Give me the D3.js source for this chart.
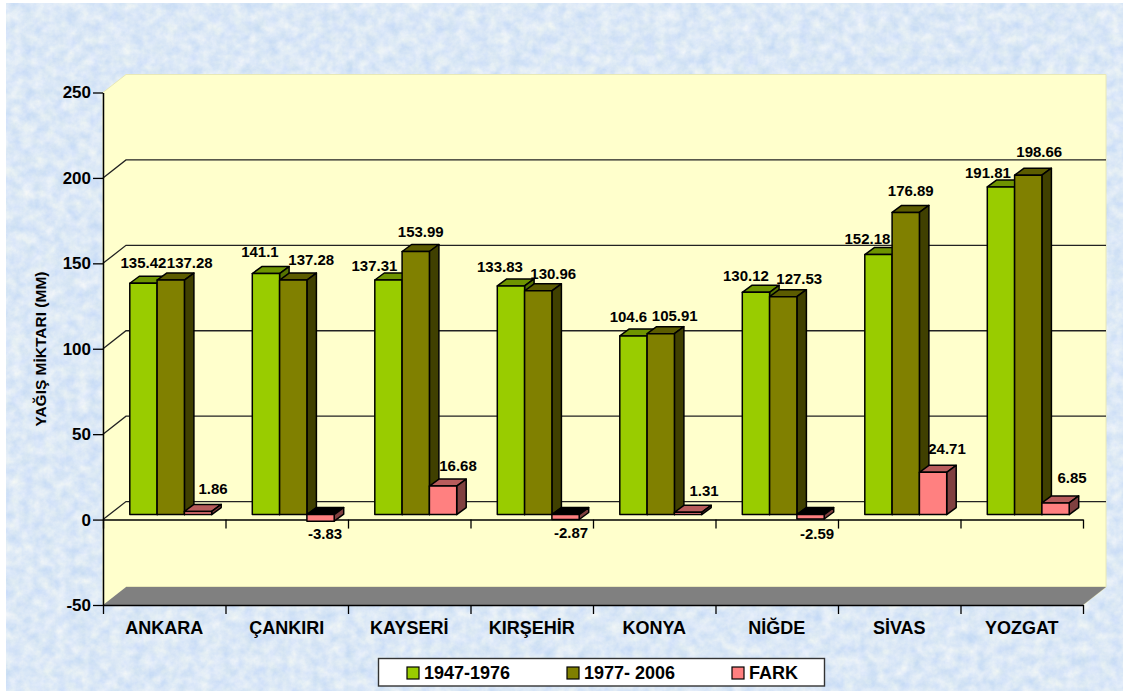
<!DOCTYPE html>
<html><head><meta charset="utf-8">
<script src="https://cdn.jsdelivr.net/npm/d3@7/dist/d3.min.js"></script>
<style>html,body{margin:0;padding:0;background:#fff;overflow:hidden}svg{display:block}text{font-family:"Liberation Sans",Arial,sans-serif;font-weight:bold;fill:#000}</style>
</head><body><svg id="c" width="1123" height="691"></svg>
<script>
const categories = ["ANKARA","ÇANKIRI","KAYSERİ","KIRŞEHİR","KONYA","NİĞDE","SİVAS","YOZGAT"];
const seriesNames = ["1947-1976","1977- 2006","FARK"];
const period1 = [135.42,141.1,137.31,133.83,104.6,130.12,152.18,191.81];
const period2 = [137.28,137.28,153.99,130.96,105.91,127.53,176.89,198.66];
const fark = [1.86,-3.83,16.68,-2.87,1.31,-2.59,24.71,6.85];
const yTicks = [-50,0,50,100,150,200,250];
// label nudges from each bar's top centre (layout, not data)
const nudgeX = [[0,-6,-14,-11,-5,-10,-11,-13],[19,18,5,15,14,16,5,11],[15,4.5,15,5.5,16,6.5,14,16.5]];
const nudgeY = [[-21,-21.5,-14,-19,-19,-17,-16,-14],[-17,-20,-20,-17,-18,-18,-22,-24],[-23,12,-20,13.5,-22,15,-24,-25]];

const series = [period1,period2,fark];
const front = ["#99CC00","#808000","#FF8080"], top_ = ["#6E9400","#5C5C00","#B85C5C"], side = ["#557300","#404000","#804040"];
const svg = d3.select("#c");
const L=103,R=1083,T=92.5,B=605,DX=23,DY=18;
const y = d3.scaleLinear().domain([-50,250]).range([B,T]);
const x = d3.scaleBand().domain(categories).range([L,R]);
const xEdges = d3.scaleLinear().domain([0,categories.length]).range([L,R]);

// textured backdrop
const defs = svg.append("defs");
const f = defs.append("filter").attr("id","tex").attr("x",0).attr("y",0).attr("width","100%").attr("height","100%").attr("color-interpolation-filters","sRGB");
f.append("feTurbulence").attr("type","fractalNoise").attr("baseFrequency","0.09").attr("numOctaves",5).attr("seed",11);
f.append("feColorMatrix").attr("type","matrix").attr("values","0.20 0.05 0 0 0.735  0.13 0.02 0 0 0.835  0 0.03 0.03 0 0.935  0 0 0 0 1");
svg.append("rect").attr("x",6).attr("y",3).attr("width",1117).attr("height",688).attr("filter","url(#tex)");

const poly = pts=>"M"+pts.map(p=>p.join(",")).join("L")+"Z";
// walls and floor
svg.append("path").attr("d",poly([[L,T],[L+DX,T-DY],[R+DX,T-DY],[R+DX,B-DY],[R,B],[L,B]])).attr("fill","#FFFFCC").attr("stroke","#E8E8B8").attr("stroke-width",1);
svg.append("path").attr("d",poly([[L,B],[L+DX,B-DY],[R+DX,B-DY],[R,B]])).attr("fill","#808080");
svg.append("path").attr("d",`M${L+DX},${B-DY-.5}H${R+DX}`).attr("stroke","#E8E8B8").attr("fill","none");

// gridlines on the wall
const grid = svg.append("g").attr("fill","none").attr("stroke","#222").attr("stroke-width",1.3);
yTicks.filter(t=>t>-50&&t<250).forEach(t=>{
  grid.append("path").attr("d",`M${L},${y(t)}L${L+DX},${y(t)-DY}H${R+DX}`);
});

// axes
const styleAxis = g=>{g.select(".domain").attr("stroke","#000").attr("stroke-width",1.5);g.selectAll(".tick line").attr("stroke","#000").attr("stroke-width",1.3);};
svg.append("g").attr("transform",`translate(${L},0)`)
  .call(d3.axisLeft(y).tickValues(yTicks).tickSize(10).tickSizeOuter(0).tickPadding(2).tickFormat(d=>String(d)))
  .call(styleAxis).call(g=>g.selectAll("text").attr("font-size",17).style("font-family",'"Liberation Sans"').style("font-weight","bold").attr("fill","#000"));
const edgeAxis = d3.axisBottom(xEdges).tickValues(d3.range(categories.length+1)).tickSize(9).tickSizeOuter(0).tickFormat("");
svg.append("g").attr("transform",`translate(0,${y(0)})`).call(edgeAxis).call(styleAxis);
svg.append("g").attr("transform",`translate(0,${B})`).call(edgeAxis).call(styleAxis);
svg.append("g").attr("transform",`translate(0,${B})`)
  .call(d3.axisBottom(x).tickSize(0).tickPadding(16))
  .call(g=>{g.select(".domain").remove();g.selectAll("text").attr("font-size",18).style("font-family",'"Liberation Sans"').style("font-weight","bold").attr("fill","#000");});

svg.append("text").attr("transform","translate(46,349) rotate(-90)").attr("text-anchor","middle").attr("font-size",15.5).text("YAĞIŞ MİKTARI (MM)");

// 3-D bars
const OX=6.5,OY=5,BW=27.3,GAP=(x.bandwidth()-3*BW)/2,BDX=9.5,BDY=7;
const bars = svg.append("g").attr("stroke","#000").attr("stroke-width",1.5).attr("stroke-linejoin","round");
categories.forEach((c,i)=>{
  series.forEach((vals,s)=>{
    const v=vals[i], x0=x(c)+GAP+OX+s*BW, x1=x0+BW;
    const yv=y(v)-OY, y0=y(0)-OY, t=Math.min(yv,y0), b=Math.max(yv,y0);
    const g=bars.append("g");
    g.append("path").attr("d",poly([[x0,t],[x0+BDX,t-BDY],[x1+BDX,t-BDY],[x1,t]])).attr("fill",v<0?"#000":top_[s]);
    g.append("path").attr("d",poly([[x1,t],[x1+BDX,t-BDY],[x1+BDX,b-BDY],[x1,b]])).attr("fill",side[s]);
    g.append("rect").attr("x",x0).attr("y",t).attr("width",BW).attr("height",b-t).attr("fill",front[s]);
  });
});
// value labels
categories.forEach((c,i)=>{
  series.forEach((vals,s)=>{
    const v=vals[i], cx=x(c)+GAP+OX+(s+.5)*BW;
    svg.append("text").attr("x",cx+nudgeX[s][i]).attr("y",y(v)-OY+nudgeY[s][i]).attr("dy","0.36em")
      .attr("text-anchor","middle").attr("font-size",15).text(v);
  });
});

// legend
const lg = svg.append("g");
lg.append("rect").attr("x",378.5).attr("y",658.5).attr("width",446).attr("height",27.5).attr("fill","#fff").attr("stroke","#333").attr("stroke-width",1.4);
const lx=[407,567,732];
seriesNames.forEach((n,s)=>{
  lg.append("rect").attr("x",lx[s]).attr("y",667).attr("width",12).attr("height",12).attr("fill",front[s]).attr("stroke","#000").attr("stroke-width",1.2);
  lg.append("text").attr("x",lx[s]+17).attr("y",673).attr("dy","0.36em").attr("font-size",18).text(n);
});
</script></body></html>
